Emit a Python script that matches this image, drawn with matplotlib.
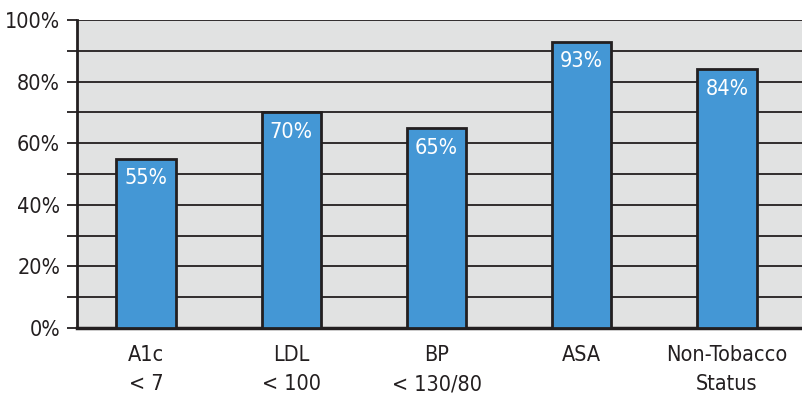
import numpy as np
import matplotlib.pyplot as plt

categories = ['A1c\n< 7', 'LDL\n< 100', 'BP\n< 130/80', 'ASA', 'Non-Tobacco\nStatus']
values = [55, 70, 65, 93, 84]

plt.rcParams['font.family'] = ['Liberation Sans Narrow', 'DejaVu Sans']
plt.rcParams['font.stretch'] = 'condensed'

fig = plt.figure(figsize=(8.02, 3.98), dpi=100)
ax = fig.add_axes([77/802, 70/398, 1 - 77/802, 308/398])
ax.set_facecolor('#e1e2e2')

x = np.arange(len(values))
ax.set_axisbelow(True)
ax.yaxis.grid(True, which='both', color='#231f20', linewidth=1.3)
ax.bar(x, values, width=0.41, color='#4497d5', edgecolor='#231f20', linewidth=2, zorder=3)

for xi, v in zip(x, values):
    ax.text(xi, v - 3.2, f'{v}%', ha='center', va='top', color='white', fontsize=15.5, zorder=4)

ax.set_xlim(-0.476, 4.517)
ax.set_ylim(0, 100)
ax.set_yticks(np.arange(0, 101, 20))
ax.set_yticks(np.arange(10, 100, 20), minor=True)
ax.set_yticklabels([f'{t}%' for t in range(0, 101, 20)], fontsize=15.5, color='#231f20')
ax.tick_params(axis='y', which='both', length=7.2, width=1.3, color='#231f20', pad=5)
ax.set_xticks(x)
ax.set_xticklabels(categories, fontsize=15.5, color='#231f20', linespacing=1.6)
ax.tick_params(axis='x', length=0, pad=12)

for side in ['right', 'top']:
    ax.spines[side].set_visible(False)
ax.spines['left'].set_linewidth(2)
ax.spines['bottom'].set_linewidth(2.5)
ax.spines['left'].set_color('#231f20')
ax.spines['bottom'].set_color('#231f20')

fig.savefig('out.png', dpi=100)
